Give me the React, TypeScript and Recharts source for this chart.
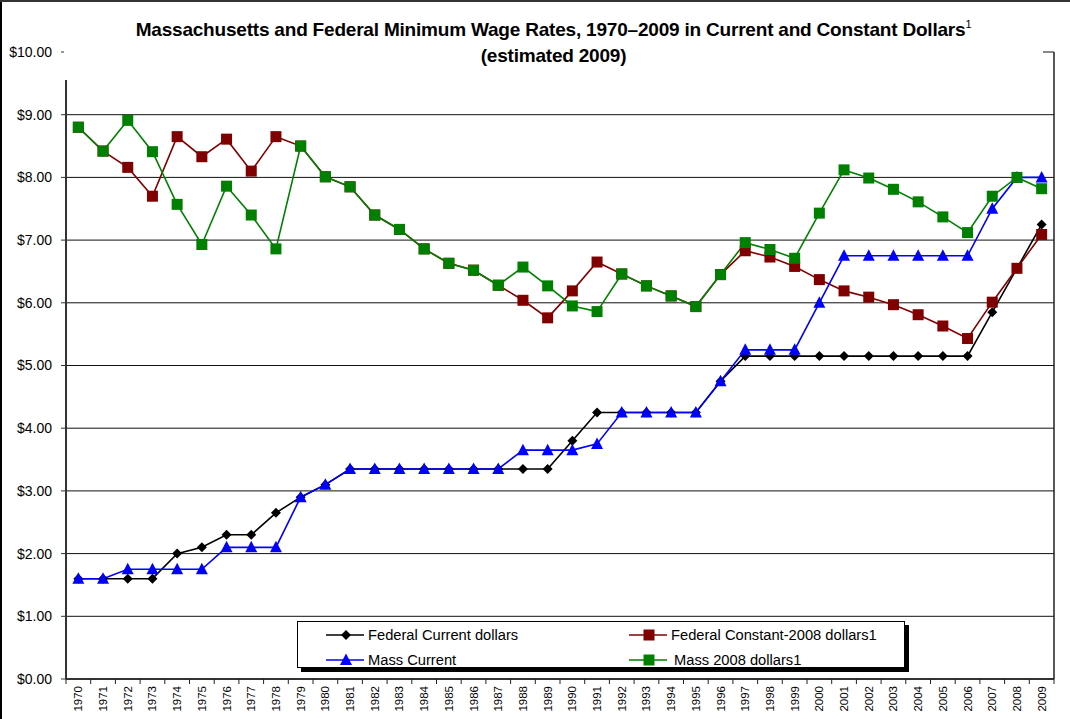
import React from "react";
import { ComposedChart, Line, XAxis, YAxis, CartesianGrid } from "recharts";

const years = [
  "1970", "1971", "1972", "1973", "1974", "1975", "1976", "1977", "1978", "1979",
  "1980", "1981", "1982", "1983", "1984", "1985", "1986", "1987", "1988", "1989",
  "1990", "1991", "1992", "1993", "1994", "1995", "1996", "1997", "1998", "1999",
  "2000", "2001", "2002", "2003", "2004", "2005", "2006", "2007", "2008", "2009",
];

const federalCurrent = [
  1.6, 1.6, 1.6, 1.6, 2.0, 2.1, 2.3, 2.3, 2.65, 2.9,
  3.1, 3.35, 3.35, 3.35, 3.35, 3.35, 3.35, 3.35, 3.35, 3.35,
  3.8, 4.25, 4.25, 4.25, 4.25, 4.25, 4.75, 5.15, 5.15, 5.15,
  5.15, 5.15, 5.15, 5.15, 5.15, 5.15, 5.15, 5.85, 6.55, 7.25,
];

const federalConstant = [
  8.8, 8.42, 8.16, 7.7, 8.65, 8.33, 8.61, 8.1, 8.65, 8.5,
  8.01, 7.85, 7.4, 7.17, 6.86, 6.63, 6.52, 6.28, 6.04, 5.76,
  6.19, 6.65, 6.46, 6.27, 6.11, 5.94, 6.45, 6.83, 6.73, 6.58,
  6.37, 6.19, 6.09, 5.97, 5.81, 5.63, 5.43, 6.01, 6.55, 7.09,
];

const massCurrent = [
  1.6, 1.6, 1.75, 1.75, 1.75, 1.75, 2.1, 2.1, 2.1, 2.9,
  3.1, 3.35, 3.35, 3.35, 3.35, 3.35, 3.35, 3.35, 3.65, 3.65,
  3.65, 3.75, 4.25, 4.25, 4.25, 4.25, 4.75, 5.25, 5.25, 5.25,
  6.0, 6.75, 6.75, 6.75, 6.75, 6.75, 6.75, 7.5, 8.0, 8.0,
];

const massConstant = [
  8.8, 8.42, 8.91, 8.41, 7.57, 6.93, 7.86, 7.4, 6.86, 8.5,
  8.01, 7.85, 7.4, 7.17, 6.86, 6.63, 6.52, 6.28, 6.57, 6.27,
  5.95, 5.86, 6.46, 6.27, 6.11, 5.94, 6.45, 6.96, 6.85, 6.71,
  7.43, 8.12, 7.99, 7.81, 7.61, 7.37, 7.12, 7.7, 8.0, 7.82,
];

const yTicks = [0, 1, 2, 3, 4, 5, 6, 7, 8, 9, 10];

const data = years.map((year, i) => ({
  year,
  fedCur: federalCurrent[i],
  fedConst: federalConstant[i],
  massCur: massCurrent[i],
  massConst: massConstant[i],
}));

const FONT = "'Liberation Sans', Arial, Helvetica, sans-serif";
const BAND = 988 / 40;

const diamond = (cx: number, cy: number, color: string, s = 5) => (
  <polygon points={`${cx},${cy - s} ${cx + s},${cy} ${cx},${cy + s} ${cx - s},${cy}`} fill={color} />
);
const square = (cx: number, cy: number, color: string, s = 5.5) => (
  <rect x={cx - s} y={cy - s} width={s * 2} height={s * 2} fill={color} />
);
const triangle = (cx: number, cy: number, color: string) => (
  <polygon points={`${cx},${cy - 6.5} ${cx + 6},${cy + 5} ${cx - 6},${cy + 5}`} fill={color} />
);

const seriesInfo = [
  { key: "fedCur", name: "Federal Current dollars", color: "#000000", marker: diamond },
  { key: "fedConst", name: "Federal Constant-2008 dollars1", color: "#800000", marker: square },
  { key: "massCur", name: "Mass Current", color: "#0000FF", marker: triangle },
  { key: "massConst", name: "Mass 2008 dollars1", color: "#008000", marker: square },
];

const YearTick = (props: any) => {
  const { x, y, payload } = props;
  const half = BAND / 2;
  return (
    <g>
      <line x1={x - half} y1={y} x2={x - half} y2={y + 5} stroke="#222" />
      {payload.value === "2009" && <line x1={x + half} y1={y} x2={x + half} y2={y + 5} stroke="#222" />}
      <text
        transform={`translate(${x + 4},${y + 7}) rotate(-90)`}
        textAnchor="end"
        fontSize={11.5}
        fontFamily={FONT}
        fill="#000"
      >
        {payload.value}
      </text>
    </g>
  );
};

const LegendBox = () => {
  const item = (s: (typeof seriesInfo)[number], left: number, top: number, textLeft: number) => (
    <div key={s.key} style={{ position: "absolute", left, top, height: 20 }}>
      <svg width={38} height={20} style={{ position: "absolute", left: 0, top: 0 }}>
        <line x1={0} y1={10} x2={38} y2={10} stroke={s.color} strokeWidth={1.5} />
        {s.marker(20, 10, s.color)}
      </svg>
      <span
        style={{
          position: "absolute",
          left: textLeft,
          top: 0,
          whiteSpace: "nowrap",
          fontSize: 14.7,
          fontFamily: FONT,
          color: "#000",
          lineHeight: "20px",
        }}
      >
        {s.name}
      </span>
    </div>
  );
  return (
    <div
      style={{
        position: "absolute",
        left: 297,
        top: 621,
        width: 608,
        height: 47,
        border: "1px solid #000",
        background: "#fff",
        boxShadow: "4px 4px 0 #000",
        boxSizing: "border-box",
      }}
    >
      {item(seriesInfo[0], 28, 3, 42)}
      {item(seriesInfo[1], 331, 3, 42)}
      {item(seriesInfo[2], 28, 28, 42)}
      {item(seriesInfo[3], 331, 28, 45)}
    </div>
  );
};

export default function App() {
  return (
    <div style={{ position: "absolute", left: 0, top: 0, width: 1070, height: 719, background: "#fff", fontFamily: FONT }}>
      <ComposedChart width={1070} height={719} data={data} margin={{ top: 52, right: 0, left: 0, bottom: 0 }}>
        <CartesianGrid vertical={false} stroke="#111" strokeWidth={1} />
        <XAxis
          dataKey="year"
          interval={0}
          height={40}
          tickSize={0}
          tickMargin={0}
          tickLine={false}
          padding={{ left: BAND / 2, right: BAND / 2 }}
          tick={<YearTick />}
          axisLine={{ stroke: "#333", strokeWidth: 2 }}
        />
        <YAxis
          domain={[0, 10]}
          ticks={yTicks}
          width={66}
          tickSize={5}
          tickMargin={9}
          interval={0}
          tickFormatter={(v: number) => `$${v.toFixed(2)}`}
          tick={{ fontSize: 14, fontFamily: FONT, fill: "#000" }}
          tickLine={{ stroke: "#333" }}
          axisLine={{ stroke: "#333", strokeWidth: 2 }}
        />
        <YAxis
          yAxisId="right"
          orientation="right"
          width={16}
          tick={false}
          tickLine={false}
          axisLine={{ stroke: "#222", strokeWidth: 1.5 }}
        />
        {seriesInfo.map((s) => (
          <Line
            key={s.key}
            dataKey={s.key}
            name={s.name}
            stroke={s.color}
            strokeWidth={1.6}
            isAnimationActive={false}
            dot={(p: any) => <g key={`${s.key}-${p.index}`}>{s.marker(p.cx, p.cy, s.color)}</g>}
            activeDot={false}
          />
        ))}
      </ComposedChart>
      <LegendBox />
      <div
        style={{
          position: "absolute",
          left: 64,
          top: 6,
          width: 979,
          height: 74,
          background: "#fff",
          textAlign: "center",
          fontWeight: "bold",
          fontSize: 19,
          lineHeight: "26px",
          paddingTop: 11,
          boxSizing: "border-box",
          color: "#000",
          letterSpacing: "-0.2px",
        }}
      >
        <div>
          Massachusetts and Federal Minimum Wage Rates, 1970–2009 in Current and Constant Dollars
          <sup style={{ fontSize: 11, fontWeight: "normal", verticalAlign: "8px", lineHeight: 0 }}>1</sup>
        </div>
        <div>(estimated 2009)</div>
      </div>
      <div style={{ position: "absolute", left: 0, top: 0, width: 2, height: 719, background: "#000" }} />
      <div style={{ position: "absolute", left: 0, top: 0, width: 1070, height: 2, background: "#333" }} />
    </div>
  );
}
